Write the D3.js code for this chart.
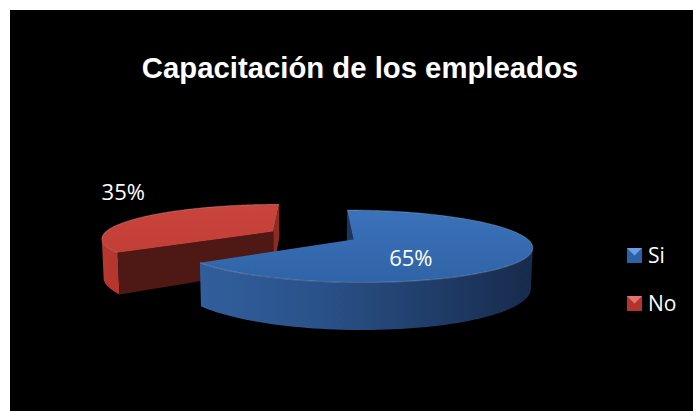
<!DOCTYPE html>
<html>
<head>
<meta charset="utf-8">
<script src="https://cdn.jsdelivr.net/npm/d3@7"></script>
<style>
  html, body { margin: 0; padding: 0; background: #fff; }
  svg { display: block; }
</style>
</head>
<body>
<div id="chart"></div>
<script>
// --- data ---
const categories = ["Si", "No"];
const values = [65, 35];
const labels = ["65%", "35%"];
const title = "Capacitación de los empleados";

// --- setup ---
const W = 693, H = 411;
const svg = d3.select("#chart").append("svg")
    .attr("width", W)
    .attr("height", H);

svg.append("rect")
    .attr("x", 10).attr("y", 10)
    .attr("width", W - 10).attr("height", H - 10)
    .attr("fill", "#000");

const defs = svg.append("defs");

function linGrad(id, x1, y1, x2, y2, stops) {
    const g = defs.append("linearGradient").attr("id", id)
        .attr("gradientUnits", "userSpaceOnUse")
        .attr("x1", x1).attr("y1", y1).attr("x2", x2).attr("y2", y2);
    stops.forEach(s => g.append("stop").attr("offset", s[0]).attr("stop-color", s[1]));
}

// colours per slice
const styles = [
    { top: ["#3c74bd", "#2f62a5"], wall: ["#3769ab", "#2a528a", "#172a4b"], cut: "#1d355c", dark: "#1d355c" },
    { top: ["#c9453d", "#bd3a33"], wall: ["#b8372f", "#8a2822", "#5a1a17"], cut: "#4e1815", dark: "#8e2b25" }
];

// --- 3D projection (pie of radius 1 lying flat, tilted toward viewer) ---
const elev = Math.asin(0.196);
const cosE = Math.cos(elev), sinE = Math.sin(elev);
const camD = 5.44, focal = 930;
const cx = 312.5, cy = 235.5;
const explode = 0.263;   // every slice pulled out from the centre
const thick = 0.231;     // pie thickness

function project(x, y, z) {
    const depth = camD - (y * cosE + z * sinE);
    return [cx + focal * x / depth, cy + focal * (y * sinE - z * cosE) / depth];
}
const cam = [0, camD * cosE, camD * sinE];

function facing(n, p) {
    return n[0] * (cam[0] - p[0]) + n[1] * (cam[1] - p[1]) + n[2] * (cam[2] - p[2]) > 0;
}

const pie = d3.pie().sort(null).value(d => d);
const arcs = pie(values);
const line = d3.line();

// back slice first (painter's order): No, then Si
const order = [1, 0];

arcs.forEach((a, i) => {
    const st = styles[i];
    a.mid = (a.startAngle + a.endAngle) / 2;
    a.ox = explode * Math.sin(a.mid);
    a.oy = -explode * Math.cos(a.mid);
    linGrad("top" + i, 0, 200, 0, 290, [[0, st.top[0]], [1, st.top[1]]]);
    linGrad("wall" + i, 100, 0, 535, 0, [[0, st.wall[0]], [0.5, st.wall[1]], [1, st.wall[2]]]);
});

function rim(a, t, z) {
    return [a.ox + Math.sin(t), a.oy - Math.cos(t), z];
}

const g = svg.append("g");

order.forEach(i => {
    const a = arcs[i];
    const st = styles[i];
    const sg = g.append("g").attr("class", "slice-" + categories[i]);
    const n = 120;
    const step = (a.endAngle - a.startAngle) / n;

    // outer wall, visible parts
    const wallPts = [];
    let run = [];
    for (let k = 0; k < n; k++) {
        const t0 = a.startAngle + k * step, t1 = t0 + step, tm = (t0 + t1) / 2;
        const nrm = [Math.sin(tm), -Math.cos(tm), 0];
        const vis = facing(nrm, rim(a, tm, -thick / 2));
        if (vis) {
            if (!run.length) run.push(t0);
            run.push(t1);
        } else if (run.length) { wallPts.push(run); run = []; }
    }
    if (run.length) wallPts.push(run);
    wallPts.forEach(r => {
        const up = r.map(t => project(...rim(a, t, 0)));
        const dn = r.slice().reverse().map(t => project(...rim(a, t, -thick)));
        sg.append("path")
            .attr("d", line(up.concat(dn)) + "Z")
            .attr("fill", `url(#wall${i})`);
    });

    // radial cut faces
    const apexT = [a.ox, a.oy, 0], apexB = [a.ox, a.oy, -thick];
    [[a.startAngle, -1], [a.endAngle, 1]].forEach(([t, s]) => {
        const nrm = [s * Math.cos(t), s * Math.sin(t), 0];
        const mid = [a.ox + 0.5 * Math.sin(t), a.oy - 0.5 * Math.cos(t), -thick / 2];
        if (!facing(nrm, mid)) return;
        const big = Math.abs(Math.sin(t)) > 0.3;
        const pts = [apexT, rim(a, t, 0), rim(a, t, -thick), apexB].map(p => project(...p));
        sg.append("path")
            .attr("d", line(pts) + "Z")
            .attr("fill", big ? st.cut : st.dark);
    });

    // top face
    const topPts = [project(...apexT)];
    for (let k = 0; k <= n; k++) topPts.push(project(...rim(a, a.startAngle + k * step, 0)));
    sg.append("path")
        .attr("d", line(topPts) + "Z")
        .attr("fill", `url(#top${i})`);

    // soft bevel highlight along the rim
    const rimPts = topPts.slice(1);
    sg.append("path")
        .attr("d", line(rimPts))
        .attr("fill", "none")
        .attr("stroke", "rgba(255,255,255,0.18)")
        .attr("stroke-width", 1.2);
});

// --- data labels ---
const labelPos = [
    { r: 0.35, dy: 21 },
    { r: 1.12, dy: -17 }
];
arcs.forEach((a, i) => {
    const r = labelPos[i].r;
    const p = project(a.ox + r * Math.sin(a.mid), a.oy - r * Math.cos(a.mid), 0);
    svg.append("text")
        .attr("x", p[0]).attr("y", p[1] + labelPos[i].dy)
        .attr("text-anchor", "middle")
        .attr("font-family", "'Open Sans', sans-serif")
        .attr("font-size", 22)
        .attr("fill", "#fff")
        .text(labels[i]);
});

// --- title ---
svg.append("text")
    .attr("x", 360).attr("y", 78)
    .attr("text-anchor", "middle")
    .attr("font-family", "'Liberation Sans', Arial, sans-serif")
    .attr("font-weight", "bold")
    .attr("font-size", 29.3)
    .attr("fill", "#fff")
    .text(title);

// --- legend ---
const legendY = d3.scaleBand().domain(categories).range([232, 328]).paddingInner(0);
const legendFill = [["#6aa1e6", "#2e62a8"], ["#e37570", "#b3332d"]];
categories.forEach((c, i) => {
    const y = legendY(c) + legendY.bandwidth() / 2;
    linGrad("leg" + i, 0, y - 8, 0, y + 8, [[0, legendFill[i][0]], [1, legendFill[i][1]]]);
    const lg = svg.append("g").attr("transform", `translate(627,${y - 8})`);
    lg.append("rect").attr("width", 15).attr("height", 15).attr("fill", legendFill[i][1]);
    lg.append("path").attr("d", "M0,0 L15,0 L7.5,7.5 Z").attr("fill", `url(#leg${i})`);
    lg.append("text")
        .attr("x", 21).attr("y", 15)
        .attr("font-family", "'Open Sans', sans-serif")
        .attr("font-size", 21)
        .attr("fill", "#fff")
        .text(c);
});
</script>
</body>
</html>
